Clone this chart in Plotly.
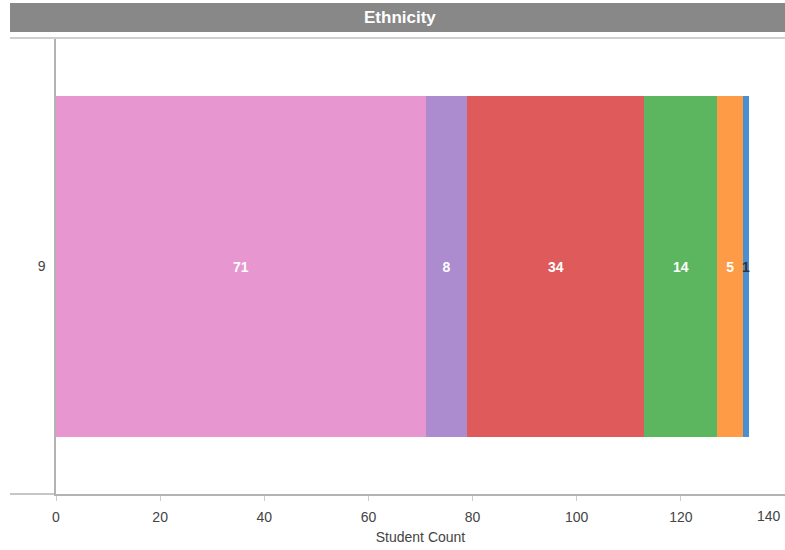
import plotly.graph_objects as go

# Student counts by ethnicity for grade 9, stacked left to right
grade = ["9"]
groups = ["Group A", "Group B", "Group C", "Group D", "Group E", "Group F"]
counts = [71, 8, 34, 14, 5, 1]
colors = ["#e896d0", "#ad8bcf", "#df5a5b", "#5cb660", "#fd9b47", "#4a8fd2"]
label_colors = ["white", "white", "white", "white", "white", "#333333"]

x_ticks = [0, 20, 40, 60, 80, 100, 120, 140]
x_tick_text = ["0", "20", "40", "60", "80", "100", "120", ""]
last_tick_label = "140"

W, H = 785, 550
L, R, T, B = 56, 0, 39, 56
plot_h = H - T - B


def py(px):
    """Convert a pixel row from the top into paper y."""
    return (H - B - px) / plot_h


def px_x(px):
    """Convert a pixel column into paper x."""
    return (px - L) / (W - L - R)


fig = go.Figure()
for name, val, col, tcol in zip(groups, counts, colors, label_colors):
    fig.add_trace(go.Bar(
        y=grade, x=[val], orientation="h", name=name,
        marker=dict(color=col, line=dict(width=0)),
        text=[str(val)], textposition="inside", insidetextanchor="middle",
        constraintext="none",
        textfont=dict(color=tcol, size=14, family="Liberation Sans, Arial",
                      weight="bold"),
        hoverinfo="x+name",
    ))

fig.update_layout(
    width=W, height=H, autosize=False,
    barmode="stack", bargap=0.25,
    showlegend=False,
    plot_bgcolor="white", paper_bgcolor="white",
    margin=dict(l=L, r=R, t=T, b=B, pad=0, autoexpand=False),
    font=dict(family="Liberation Sans, Arial", size=13, color="#444444"),
    xaxis=dict(
        range=[0, 140], tickvals=x_ticks, ticktext=x_tick_text,
        automargin=False,
        showgrid=False, zeroline=False, showline=True,
        linecolor="#b3b3b3", linewidth=1.5,
        ticks="outside", ticklen=5, tickcolor="#cccccc",
        ticklabelstandoff=4,
        tickfont=dict(size=14, color="#444444"),
        title=dict(text="Student Count", standoff=9,
                   font=dict(size=14, color="#444444")),
    ),
    yaxis=dict(
        showgrid=False, zeroline=False, showline=True, automargin=False,
        linecolor="#b3b3b3", linewidth=1.5,
        ticks="", ticklabelstandoff=6,
        tickfont=dict(size=14, color="#444444"),
    ),
    shapes=[
        # header band
        dict(type="rect", xref="paper", yref="paper",
             x0=px_x(10), x1=px_x(785), y0=py(32), y1=py(3),
             fillcolor="#888888", line=dict(width=0), layer="below"),
        # rule under header
        dict(type="line", xref="paper", yref="paper",
             x0=px_x(10), x1=px_x(785), y0=py(38), y1=py(38),
             line=dict(color="#cfcfcf", width=2)),
        # x baseline extension to the left edge
        dict(type="line", xref="paper", yref="paper",
             x0=px_x(10), x1=0, y0=0, y1=0,
             line=dict(color="#b3b3b3", width=1.5)),
    ],
    annotations=[
        dict(text="Ethnicity", xref="paper", yref="paper",
             x=px_x(400), y=py(18), showarrow=False,
             font=dict(family="Liberation Sans Narrow, Arial Narrow, Liberation Sans",
                       size=17, color="white", weight="bold"),
             xanchor="center", yanchor="middle"),
        # last tick label, pulled inside the right edge
        dict(text=last_tick_label, xref="paper", yref="paper",
             x=1, y=0, xanchor="right", yanchor="top", xshift=-2, yshift=-12,
             showarrow=False, font=dict(size=14, color="#444444")),
    ],
)

fig.write_html("out.html")
